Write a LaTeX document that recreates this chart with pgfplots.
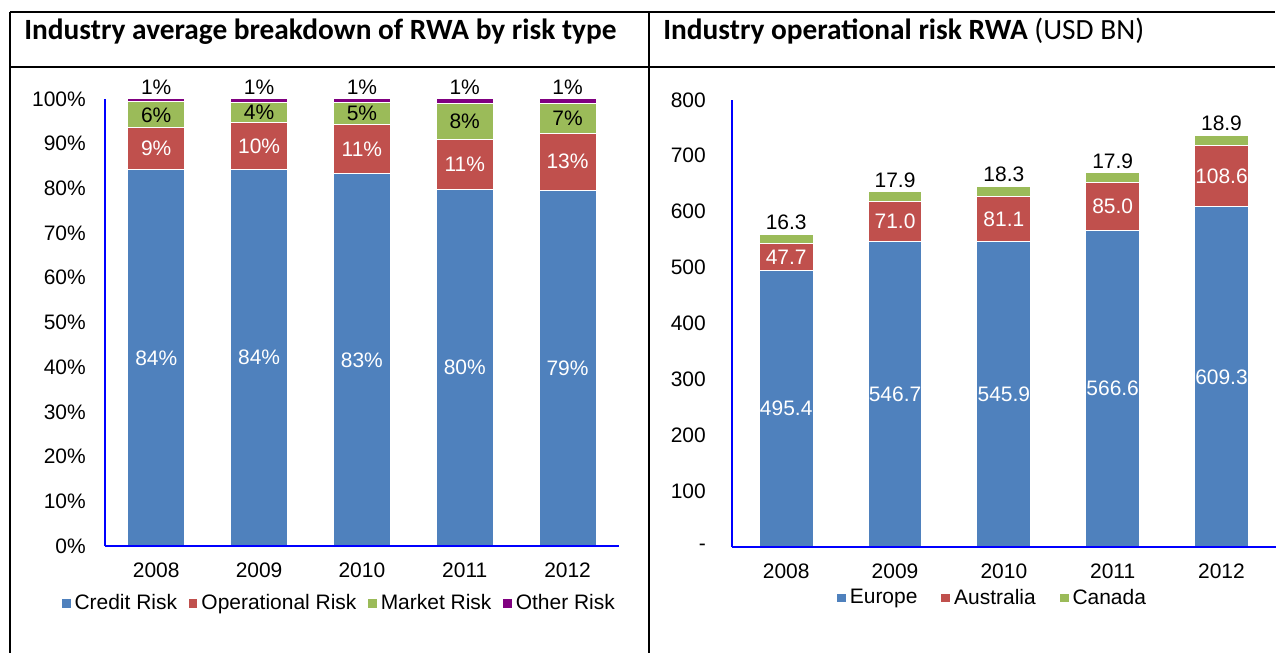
\documentclass[border=0pt]{standalone}
\usepackage{fontspec}
\setmainfont{Liberation Sans}
\newfontfamily\titlefont{Carlito}
\usepackage{pgfplots}
\pgfplotsset{compat=1.18}
\usepackage{pgfplotstable}
\definecolor{cblue}{RGB}{79,129,189}
\definecolor{cred}{RGB}{192,80,77}
\definecolor{cgreen}{RGB}{155,187,89}
\definecolor{cpurple}{RGB}{128,0,128}
\definecolor{axblue}{RGB}{0,0,255}

\pgfplotstableread{
x credit cl op ol market ml other otl
0 84.2 84 9.3 9 5.8 6 0.7 1
1 84.3 84 10.4 10 4.4 4 0.9 1
2 83.3 83 10.9 11 5.0 5 0.8 1
3 79.8 80 11.0 11 8.2 8 1.0 1
4 79.6 79 12.7 13 6.7 7 1.0 1
}\leftdata

\pgfplotstableread{
x eu au ca
0 495.4 47.7 16.3
1 546.7 71.0 17.9
2 545.9 81.1 18.3
3 566.6 85.0 17.9
4 609.3 108.6 18.9
}\rightdata

\pgfplotsset{
  /pgf/number format/assume math mode=true,
  mybase/.style={
    scale only axis, height=224pt,
    ybar stacked, enlargelimits=false, clip=false, axis on top,
    xmin=-0.5, xmax=4.5, ymin=0,
    axis x line*=bottom, axis y line*=left,
    axis line style={axblue, line width=1.1pt},
    major tick length=0pt,
    xtick={0,1,2,3,4},
    xticklabels={2008,2009,2010,2011,2012},
    tick label style={font=\fontsize{10.5}{12}\selectfont},
    xticklabel style={yshift=-5pt},
    legend style={draw=none, fill=none, font=\fontsize{10.5}{12}\selectfont,
      inner sep=0pt},
    legend image code/.code={\draw[##1, draw=none] (0pt,-2.2pt) rectangle (4.4pt,2.2pt);},
    every axis plot/.append style={draw=white, line width=0.5pt},
    point meta=explicit,
  },
  midlab/.style={
    every node near coord/.style={anchor=center, font=\fontsize{10.5}{12}\selectfont, text=#1}},
  toplab/.style={
    visualization depends on={rawy \as \rawy},
    every node near coord/.style={shift={(axis direction cs:0,\rawy/2)}, anchor=south, font=\fontsize{10.5}{12}\selectfont, text=black, inner sep=2pt}},
}

\begin{document}
\begin{tikzpicture}
\begin{scope}[x=0.5pt,y=-0.5pt]
\useasboundingbox (0,0) rectangle (1277,654);
% frame
\draw[line width=1.25pt] (10,12) -- (1277,12);
\draw[line width=1.25pt] (10,67) -- (1277,67);
\draw[line width=1.25pt] (10,12) -- (10,654);
\draw[line width=1.25pt] (650,12) -- (650,654);
% titles
\node[anchor=base west, inner sep=0pt, font=\titlefont\bfseries\fontsize{14.7}{16}\selectfont] at (24,40) {Industry average breakdown of RWA by risk type};
\node[anchor=base west, inner sep=0pt, font=\titlefont\fontsize{14.7}{16}\selectfont] at (664,40) {\textbf{Industry operational risk RWA} (USD BN)};
\end{scope}

\begin{axis}[mybase,
  at={(52.5pt,-273.5pt)}, anchor=south west,
  width=257.5pt, ymax=100,
  bar width=28.5pt,
  ytick={0,10,...,100},
  yticklabel={\pgfmathprintnumber{\tick}\%},
  yticklabel style={xshift=-6pt},
  legend columns=4,
  legend style={at={(0.458,-0.129)}, anchor=center,
    /tikz/every even column/.append style={column sep=3.8pt}},
  nodes near coords={\pgfmathprintnumber[fixed,precision=0]{\pgfplotspointmeta}\%},
]
\addplot[fill=cblue, midlab=white] table[x=x,y=credit,meta=cl]{\leftdata};
\addplot[fill=cred, midlab=white] table[x=x,y=op,meta=ol]{\leftdata};
\addplot[fill=cgreen, midlab=black] table[x=x,y=market,meta=ml]{\leftdata};
\addplot[fill=cpurple, toplab] table[x=x,y=other,meta=otl]{\leftdata};
\legend{Credit Risk,Operational Risk,Market Risk,Other Risk}
\end{axis}

\begin{axis}[mybase,
  at={(366.5pt,-274pt)}, anchor=south west,
  width=272.5pt, ymax=800,
  bar width=27pt,
  ytick={0,100,...,800},
  yticklabels={-,100,200,300,400,500,600,700,800},
  yticklabel style={xshift=-9.5pt},
  legend columns=3,
  legend style={at={(0.481,-0.114)}, anchor=center,
    /tikz/every even column/.append style={column sep=10pt}},
  nodes near coords={\pgfmathprintnumber[fixed,fixed zerofill,precision=1]{\pgfplotspointmeta}},
]
\addplot[fill=cblue, midlab=white] table[x=x,y=eu,meta=eu]{\rightdata};
\addplot[fill=cred, midlab=white] table[x=x,y=au,meta=au]{\rightdata};
\addplot[fill=cgreen, toplab] table[x=x,y=ca,meta=ca]{\rightdata};
\legend{Europe,Australia,Canada}
\end{axis}
\end{tikzpicture}
\end{document}
